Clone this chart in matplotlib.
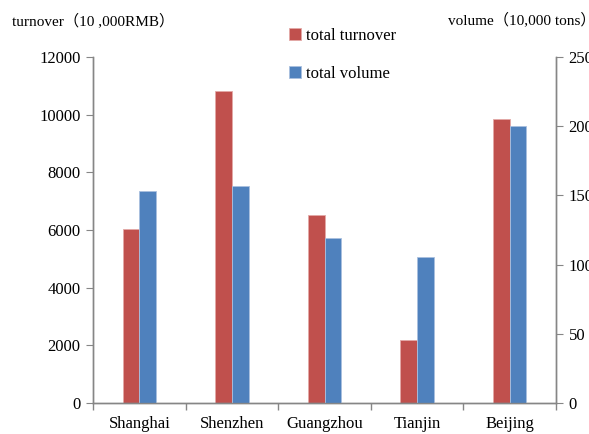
import matplotlib.pyplot as plt
import numpy as np

# data
cities = ['Shanghai', 'Shenzhen', 'Guangzhou', 'Tianjin', 'Beijing']
turnover = [6020, 10830, 6520, 2190, 9840]   # 10,000 RMB
volume = [153.5, 157, 119, 105.5, 200]      # 10,000 tons

red = '#C0504D'
blue = '#4F81BD'
grey = '#868686'

plt.rcParams['font.family'] = ['Liberation Serif', 'Noto Sans CJK SC']
plt.rcParams['font.size'] = 11

fig = plt.figure(figsize=(5.89, 4.34), dpi=100)
ax = fig.add_axes([0.158, 0.0714, 0.786, 0.797])
ax2 = ax.twinx()

x = np.arange(len(cities))
w = 0.18

b1 = ax.bar(x - w, turnover, w, align='edge', color=red,
            edgecolor='#e3a9a7', linewidth=0.6, label='total turnover')
b2 = ax2.bar(x, volume, w, align='edge', color=blue,
             edgecolor='#a9c0df', linewidth=0.6, label='total volume')

ax.set_xlim(-0.5, len(cities) - 0.5)
ax.set_ylim(0, 12000)
ax.set_yticks(range(0, 12001, 2000))
ax2.set_ylim(0, 250)
ax2.set_yticks(range(0, 251, 50))

# category ticks between groups, labels centred
ax.set_xticks(np.arange(-0.5, len(cities), 1.0))
ax.set_xticklabels([])
ax.set_xticks(x, minor=True)
ax.set_xticklabels(cities, minor=True, fontsize=12)
ax.tick_params(axis='x', which='minor', length=0, pad=9)
ax.tick_params(axis='x', which='major', length=5, color=grey, width=1)

for a in (ax, ax2):
    a.spines['top'].set_visible(False)
    for s in ('left', 'right', 'bottom'):
        a.spines[s].set_color(grey)
        a.spines[s].set_linewidth(1)
ax.tick_params(axis='y', length=5, color=grey, direction='out', pad=4, labelsize=12)
ax2.tick_params(axis='y', length=5, color=grey, direction='out', pad=4, labelsize=12)

fig.text(0.02, 0.953, 'turnover（10 ,000RMB）', fontsize=11, va='center')
fig.text(0.76, 0.955, 'volume（10,000 tons）', fontsize=11, va='center')

fig.legend([b1, b2], ['total turnover', 'total volume'],
           loc='upper left', bbox_to_anchor=(0.465, 0.97),
           frameon=False, handlelength=0.7, handleheight=0.7,
           handletextpad=0.3, labelspacing=1.3, fontsize=12)

fig.savefig('out.png', dpi=100)
